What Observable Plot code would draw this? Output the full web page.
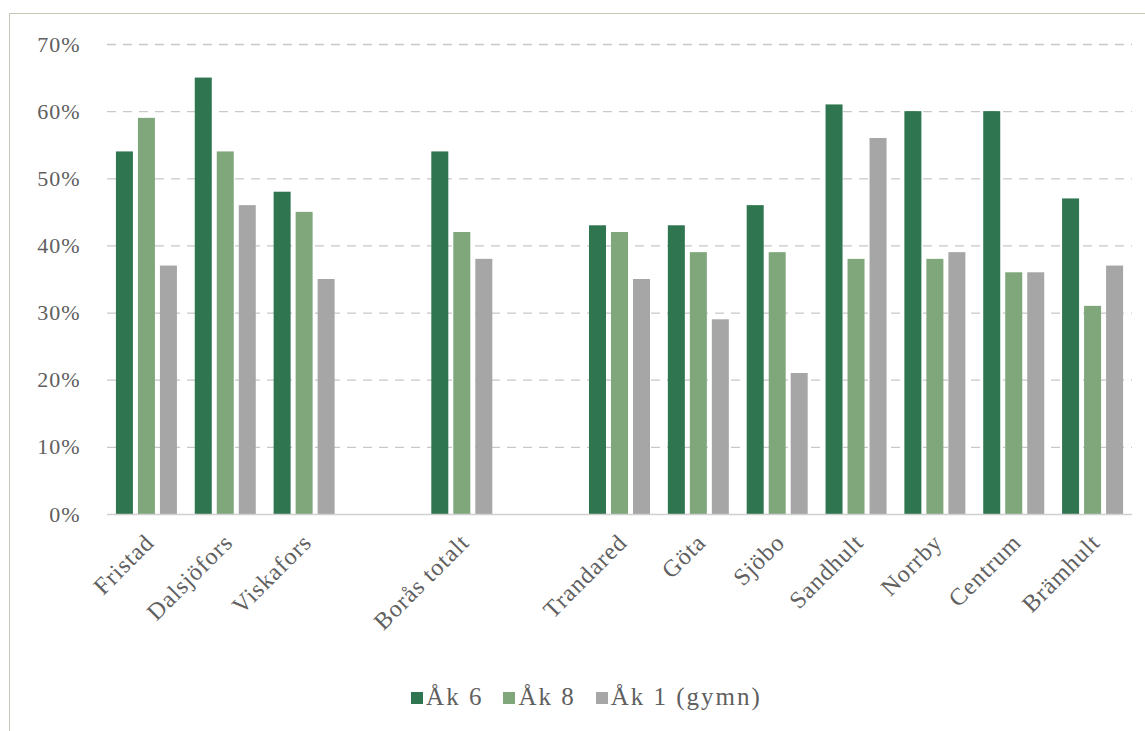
<!DOCTYPE html>
<html>
<head>
<meta charset="utf-8">
<script src="https://cdn.jsdelivr.net/npm/d3@7"></script>
<script src="https://cdn.jsdelivr.net/npm/@observablehq/plot@0.6"></script>
<style>
  html, body { margin: 0; padding: 0; background: #fff; }
  #wrap { position: relative; width: 1145px; height: 731px; overflow: hidden; background: #fff; }
  #frameL { position: absolute; left: 9px; top: 13px; width: 1px; height: 718px; background: #c3c9b2; }
  #frameT { position: absolute; left: 9px; top: 13px; width: 1136px; height: 1px; background: #c3c9b2; }
  #chart { position: absolute; left: 0; top: 0; }
  #legend { position: absolute; top: 683px; left: 0; width: 1173px; text-align: center;
            font-family: "Liberation Serif", "DejaVu Serif", serif; font-size: 25px; letter-spacing: 2px; color: #5f5f5f; }
  #legend span.item { margin: 0 10px; white-space: nowrap; }
  #legend span.sw { display: inline-block; width: 12px; height: 12px; margin-right: 3px; vertical-align: 1px; }
</style>
</head>
<body>
<div id="wrap">
  <div id="frameL"></div>
  <div id="frameT"></div>
  <div id="chart"></div>
  <div id="legend"></div>
</div>
<script>
const categories = ["Fristad", "Dalsjöfors", "Viskafors", "_gap1", "Borås totalt", "_gap2",
  "Trandared", "Göta", "Sjöbo", "Sandhult", "Norrby", "Centrum", "Brämhult"];
const series = ["Åk 6", "Åk 8", "Åk 1 (gymn)"];
const colors = ["#2e7550", "#7fa77b", "#a6a6a6"];
const ak6  = [54, 65, 48, null, 54, null, 43, 43, 46, 61, 60, 60, 47];
const ak8  = [59, 54, 45, null, 42, null, 42, 39, 39, 38, 38, 36, 31];
const ak1g = [37, 46, 35, null, 38, null, 35, 29, 21, 56, 39, 36, 37];
const yTicks = [0, 10, 20, 30, 40, 50, 60, 70];

const valuesBySeries = [ak6, ak8, ak1g];
const tables = series.map((s, j) =>
  categories.map((c, i) => ({cat: c, series: s, value: valuesBySeries[j][i]}))
    .filter(d => d.value != null)
    .map(d => ({...d, value: d.value / 100})));

const font = `"Liberation Serif", "DejaVu Serif", serif`;
const W = 1145, ML = 107, MR = 13;
const bw = (W - ML - MR) / categories.length;
const barW = 17, step = 22, first = (bw - (2 * step + barW)) / 2;

const chart = Plot.plot({
  width: W,
  height: 670,
  marginLeft: ML,
  marginRight: MR,
  marginTop: 44,
  marginBottom: 156,
  style: {fontFamily: font, fontSize: "22px", color: "#606060", background: "transparent", letterSpacing: "1px"},
  x: {domain: categories, padding: 0, round: false, label: null},
  y: {domain: [0, 0.7], label: null},
  marks: [
    Plot.ruleY(yTicks.filter(d => d > 0).map(d => d / 100), {stroke: "#c8c8c8", strokeWidth: 1.3, strokeDasharray: "9,7"}),
    ...tables.map((t, j) => Plot.barY(t, {
      x: "cat", y: "value", fill: colors[j],
      insetLeft: first + j * step,
      insetRight: bw - (first + j * step + barW)
    })),
    Plot.ruleY([0], {stroke: "#d0d0d0", strokeWidth: 1.3}),
    Plot.axisY(yTicks.map(d => d / 100), {tickFormat: d => Math.round(d * 100) + "%", tickSize: 0, tickPadding: 27, label: null}),
    Plot.axisX({tickFormat: d => d.startsWith("_") ? "" : d, tickRotate: -45, tickSize: 0, tickPadding: 24, dx: 3,
                fontSize: 24, label: null, style: {letterSpacing: "2.5px"}})
  ]
});
document.getElementById("chart").appendChild(chart);

const legend = document.getElementById("legend");
series.forEach((s, j) => {
  const item = document.createElement("span");
  item.className = "item";
  const sw = document.createElement("span");
  sw.className = "sw";
  sw.style.background = colors[j];
  item.appendChild(sw);
  item.appendChild(document.createTextNode(s));
  legend.appendChild(item);
});
</script>
</body>
</html>
